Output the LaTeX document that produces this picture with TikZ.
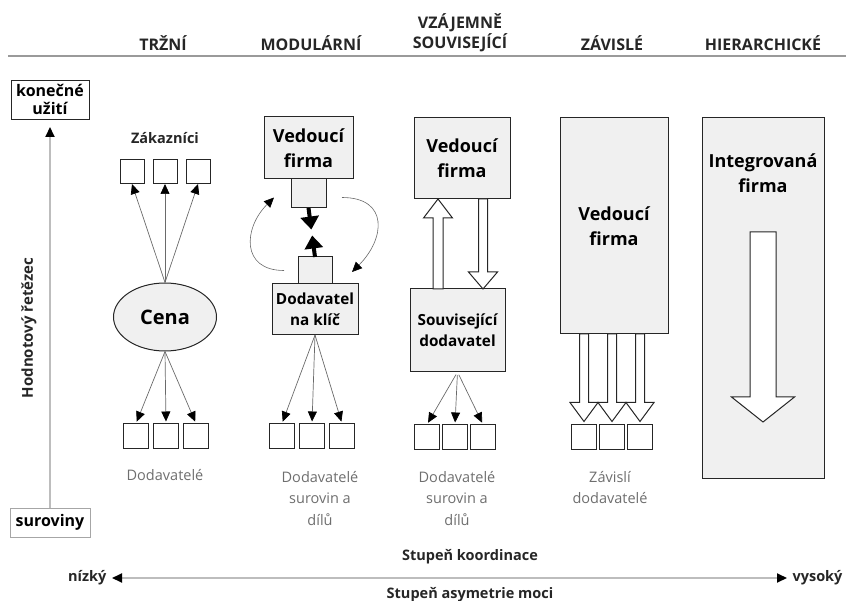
\documentclass[tikz,border=0pt]{standalone}
\usepackage{fontspec}
\setmainfont{Open Sans}
\usepackage{tikz}
\usetikzlibrary{positioning,arrows.meta,calc,shapes.geometric}
\definecolor{cInk}{HTML}{262626}
\definecolor{cFill}{HTML}{F0F0F0}
\definecolor{cCapt}{HTML}{6E6E6E}
\definecolor{cAxis}{HTML}{BDBDBD}
\definecolor{cWire}{HTML}{6A6A6A}
\definecolor{cRule}{HTML}{9A9A9A}

% vertical block arrow: from, to, shaft half width, head half width, head length
\newcommand{\hollowarrow}[5]{%
  \draw[hollow] let \p1=(#1), \p2=(#2), \p3=($(#2)!#5pt!(#1)$) in
    (\x1-#3pt,\y1) -- (\x1-#3pt,\y3) -- (\x1-#4pt,\y3) -- (\x2,\y2)
    -- (\x1+#4pt,\y3) -- (\x1+#3pt,\y3) -- (\x1+#3pt,\y1) -- cycle;}

\begin{document}
\begin{tikzpicture}[
  x=1pt, y=-1pt,
  hdr/.style={font=\bfseries\fontsize{16}{20}\selectfont, text=cInk, align=center},
  lbl/.style={font=\bfseries\fontsize{14.5}{17}\selectfont, text=cInk, align=center},
  box/.style={draw=cInk, fill=cFill, line width=1pt, outer sep=0pt, inner sep=0pt, align=center, font=\bfseries\fontsize{18}{25}\selectfont},
  sbox/.style={box, font=\bfseries\fontsize{15.3}{21}\selectfont},
  port/.style={draw=cInk, fill=cFill, line width=1pt, outer sep=0pt, inner sep=0pt},
  sq/.style={draw=cInk, fill=white, line width=1pt, minimum size=25pt, inner sep=0pt, outer sep=0pt},
  endbox/.style={draw=cInk, fill=white, line width=0.9pt, inner sep=0pt, outer sep=0pt, align=center, font=\bfseries\fontsize{16}{18}\selectfont},
  capt/.style={font=\fontsize{14.5}{21.5}\selectfont, text=cCapt, align=center},
  wire/.style={cWire, line width=0.7pt, -{Triangle[length=10pt,width=9pt,color=black]}},
  push/.style={black, line width=4pt, -{Triangle[length=13pt,width=18pt]}},
  swirl/.style={cWire, line width=0.6pt, -{Triangle[length=10pt,width=9pt,color=black]}},
  hollow/.style={draw=cInk, fill=white, line width=1pt, line join=miter},
  vaxis/.style={cAxis, line width=1.8pt, -{Triangle[length=10pt,width=9pt,color=black]}},
]
\useasboundingbox (0,0) rectangle (846,601);

% ---------- column headers ----------
\node[hdr] (h1) at (163,43) {TRŽNÍ};
\node[hdr] (h2) at (311,43) {MODULÁRNÍ};
\node[hdr] (h3) at (460,33) {VZÁJEMNĚ\\SOUVISEJÍCÍ};
\node[hdr] (h4) at (612,43) {ZÁVISLÉ};
\node[hdr] (h5) at (763,43) {HIERARCHICKÉ};
\draw[cRule, line width=1.5pt] (8,56) -- (846,56);

% ---------- value chain axis ----------
\node[endbox, minimum width=78pt, minimum height=39pt] (konec) at (50,99.5) {konečné\\užití};
\node[endbox, draw=gray!70, minimum width=80pt, minimum height=29pt] (surov) at (50,522.5) {suroviny};
\draw[vaxis, shorten >=8pt] (surov.north) -- (konec.south);
\node[lbl, rotate=90, font=\bfseries\fontsize{15}{17}\selectfont] (chain) at (29,328) {Hodnotový řetězec};

% ---------- market ----------
\node[lbl] (zak) at (165,138) {Zákazníci};
\node[sq, minimum size=24pt] (k2) at (165,172) {};
\node[sq, minimum size=24pt, left=9pt of k2] (k1) {};
\node[sq, minimum size=24pt, right=9pt of k2] (k3) {};
\node[ellipse, draw=cInk, fill=cFill, line width=1pt, minimum width=103pt, minimum height=68pt,
      font=\bfseries\fontsize{20}{24}\selectfont] (cena) at (165,317) {Cena};
\node[sq] (d2) at (166,436) {};
\node[sq, left=5pt of d2] (d1) {};
\node[sq, right=5pt of d2] (d3) {};
\node[capt] (dcap) at (165,475) {Dodavatelé};
\foreach \i in {1,2,3}{
  \draw[wire] (cena.north) -- (k\i.south);
  \draw[wire, shorten >=2pt] (cena.south) -- (d\i.north);
}

% ---------- modular ----------
\node[box, minimum width=89pt, minimum height=62pt] (lead2) at (308.5,148) {Vedoucí\\firma};
\node[port, minimum width=35pt, minimum height=29pt, below=0pt of lead2] (pa) {};
\node[sbox, minimum width=86pt, minimum height=51pt] (turnkey) at (315,309.5) {Dodavatel\\na klíč};
\node[port, minimum width=34pt, minimum height=27pt, above=0pt of turnkey] (pb) {};
\coordinate (mid2) at ($(pa.south)!0.5!(pb.north)$);
\draw[push, shorten >=3pt] (pa.south) -- (mid2);
\draw[push, shorten >=3pt] (pb.north) -- (mid2);
\coordinate (cl1) at ($(pb.west)+(-14,0)$);
\coordinate (cl2) at ($(pa.west)+(-17,4)$);
\coordinate (cr1) at ($(pa.east)+(16,4)$);
\coordinate (cr2) at ($(pb.east)+(20,1.5)$);
\draw[swirl] (cl1) to[out=180, in=225, looseness=1.5] (cl2);
\draw[swirl] (cr1) to[out=0, in=45, looseness=1.6] (cr2);
\node[sq] (m2) at (312,436) {};
\node[sq, left=5pt of m2] (m1) {};
\node[sq, right=5pt of m2] (m3) {};
\foreach \i in {1,2,3}
  \draw[wire, shorten >=2pt] (turnkey.south) -- (m\i.north);
\node[capt] (mcap) at (320,498.5) {Dodavatelé\\surovin a\\dílů};

% ---------- relational ----------
\node[box, minimum width=96pt, minimum height=81pt] (lead3) at (462,158.5) {Vedoucí\\firma};
\node[sbox, minimum width=95pt, minimum height=83pt] (rel) at (457.5,330.5) {Související\\dodavatel};
\coordinate (ru1) at ($(rel.north west)+(28,0)$);
\coordinate (ru2) at (ru1 |- lead3.south);
\coordinate (rd1) at ($(lead3.south east)+(-27,0)$);
\coordinate (rd2) at (rd1 |- rel.north);
\hollowarrow{ru1}{ru2}{5}{14.5}{19}
\hollowarrow{rd1}{rd2}{4.5}{14.5}{17}
\node[sq] (r2) at (455,437) {};
\node[sq, left=3pt of r2] (r1) {};
\node[sq, right=3pt of r2] (r3) {};
\foreach \i in {1,2,3}
  \draw[wire, shorten <=3pt, shorten >=2pt] (rel.south) -- (r\i.north);
\node[capt] (rcap) at (457,498.5) {Dodavatelé\\surovin a\\dílů};

% ---------- captive ----------
\node[box, minimum width=108pt, minimum height=216pt] (lead4) at (614,226) {Vedoucí\\firma};
\node[sq] (c2) at (612,437) {};
\node[sq, left=3pt of c2] (c1) {};
\node[sq, right=3pt of c2] (c3) {};
\foreach \i in {1,2,3}{
  \coordinate (cs\i) at (lead4.south -| c\i);
  \coordinate (ct\i) at ($(c\i.north)+(0,-3)$);
  \hollowarrow{cs\i}{ct\i}{4.5}{14}{19}
}
\node[capt] (ccap) at (610,487.5) {Závislí\\dodavatelé};

% ---------- hierarchy ----------
\node[box, minimum width=122pt, minimum height=360pt] (firm5) at (763,298) {};
\node[box, draw=none, fill=none] (firm5t) at (763,173.5) {Integrovaná\\firma};
\coordinate (hs) at ($(firm5.north)+(0,114)$);
\coordinate (ht) at ($(firm5.south)+(0,-56)$);
\hollowarrow{hs}{ht}{13}{31.5}{25}

% ---------- bottom scale ----------
\node[lbl] (coord) at (470,557) {Stupeň koordinace};
\node[lbl] (asym) at (470,595) {Stupeň asymetrie moci};
\node[lbl, anchor=east] (low) at (110,578) {nízký};
\node[lbl, anchor=east] (high) at (846,578) {vysoký};
\draw[cAxis, line width=1.8pt, {Triangle[length=10pt,width=9pt,color=black]}-{Triangle[length=10pt,width=9pt,color=black]},
      shorten <=2pt, shorten >=2pt] (low.east) -- (high.west);

\end{tikzpicture}
\end{document}
